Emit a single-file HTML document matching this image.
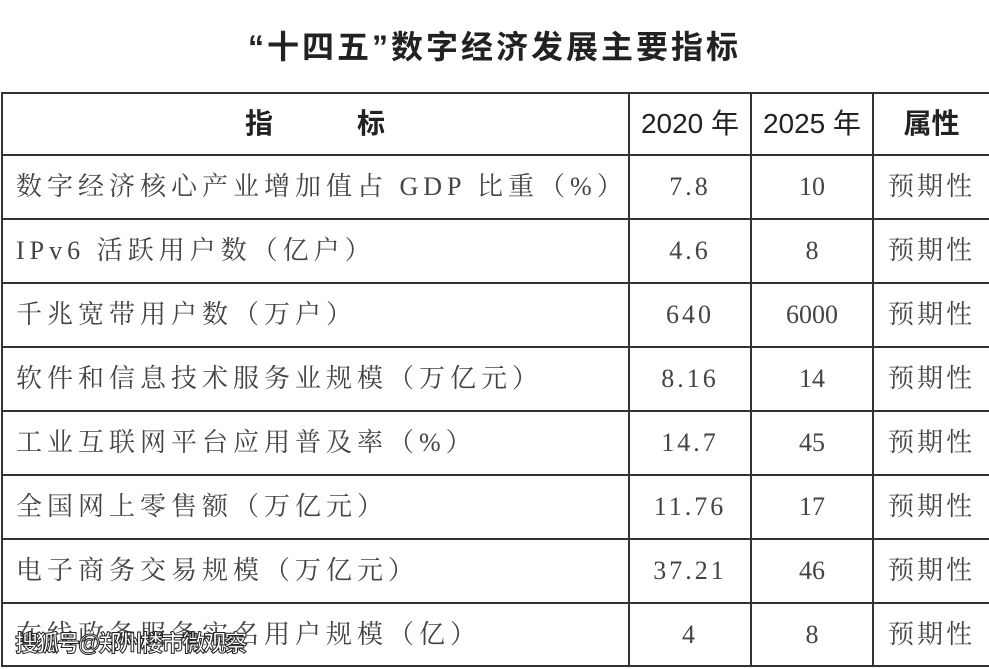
<!DOCTYPE html>
<html><head><meta charset="utf-8"><style>
body{margin:0;width:989px;height:669px;background:#fff;overflow:hidden;position:relative;font-family:"Liberation Serif","Noto Serif CJK SC",serif;color:#444}
.title{position:absolute;top:22px;left:0;width:989px;text-align:center;font:bold 32px "Liberation Sans","Noto Sans CJK SC",sans-serif;color:#222;letter-spacing:3px}
.h{position:absolute;left:1px;top:92px;width:990px;height:575px;border:2px solid #333;border-right:none;box-sizing:border-box}
.l{position:absolute;background:#333}
.t{position:absolute;font-size:26px;line-height:64px;white-space:nowrap}
.c{text-align:center}
.hd{font-family:"Liberation Sans","Noto Sans CJK SC",sans-serif;color:#222;font-size:28px}
.wm{position:absolute;left:15px;top:624px;font:bold 23px "Liberation Sans","Noto Sans CJK SC",sans-serif;color:#fff;-webkit-text-stroke:1px #222;letter-spacing:-2px}
</style></head><body>
<div class="title">“十四五”数字经济发展主要指标</div>
<div class="h"></div>
<div class="l" style="left:628px;top:92px;width:2px;height:575px"></div>
<div class="l" style="left:750px;top:92px;width:2px;height:575px"></div>
<div class="l" style="left:872px;top:92px;width:2px;height:575px"></div>
<div class="l" style="left:1px;top:154px;width:988px;height:2px"></div>
<div class="l" style="left:1px;top:218px;width:988px;height:2px"></div>
<div class="l" style="left:1px;top:282px;width:988px;height:2px"></div>
<div class="l" style="left:1px;top:346px;width:988px;height:2px"></div>
<div class="l" style="left:1px;top:410px;width:988px;height:2px"></div>
<div class="l" style="left:1px;top:474px;width:988px;height:2px"></div>
<div class="l" style="left:1px;top:538px;width:988px;height:2px"></div>
<div class="l" style="left:1px;top:602px;width:988px;height:2px"></div>
<div class="t hd c" style="left:2px;width:626px;top:92px;font-weight:bold">指&emsp;&emsp;&emsp;标</div>
<div class="t hd c" style="left:630px;width:120px;top:92px">2020 年</div>
<div class="t hd c" style="left:752px;width:120px;top:92px">2025 年</div>
<div class="t hd c" style="left:874px;width:115px;top:92px;font-weight:bold">属性</div>
<div class="t" style="left:16px;top:155px;letter-spacing:5px">数字经济核心产业增加值占 GDP 比重（%）</div>
<div class="t" style="left:16px;top:219px;letter-spacing:5px">IPv6 活跃用户数（亿户）</div>
<div class="t" style="left:16px;top:283px;letter-spacing:5px">千兆宽带用户数（万户）</div>
<div class="t" style="left:16px;top:347px;letter-spacing:5px">软件和信息技术服务业规模（万亿元）</div>
<div class="t" style="left:16px;top:411px;letter-spacing:5px">工业互联网平台应用普及率（%）</div>
<div class="t" style="left:16px;top:475px;letter-spacing:5px">全国网上零售额（万亿元）</div>
<div class="t" style="left:16px;top:539px;letter-spacing:5px">电子商务交易规模（万亿元）</div>
<div class="t" style="left:16px;top:603px;letter-spacing:5px">在线政务服务实名用户规模（亿）</div>
<div class="t c" style="left:630px;width:120px;top:155px;letter-spacing:3px">7.8</div>
<div class="t c" style="left:630px;width:120px;top:219px;letter-spacing:3px">4.6</div>
<div class="t c" style="left:630px;width:120px;top:283px;letter-spacing:3px">640</div>
<div class="t c" style="left:630px;width:120px;top:347px;letter-spacing:3px">8.16</div>
<div class="t c" style="left:630px;width:120px;top:411px;letter-spacing:3px">14.7</div>
<div class="t c" style="left:630px;width:120px;top:475px;letter-spacing:3px">11.76</div>
<div class="t c" style="left:630px;width:120px;top:539px;letter-spacing:3px">37.21</div>
<div class="t c" style="left:630px;width:120px;top:603px;letter-spacing:3px">4</div>
<div class="t c" style="left:752px;width:120px;top:155px">10</div>
<div class="t c" style="left:752px;width:120px;top:219px">8</div>
<div class="t c" style="left:752px;width:120px;top:283px">6000</div>
<div class="t c" style="left:752px;width:120px;top:347px">14</div>
<div class="t c" style="left:752px;width:120px;top:411px">45</div>
<div class="t c" style="left:752px;width:120px;top:475px">17</div>
<div class="t c" style="left:752px;width:120px;top:539px">46</div>
<div class="t c" style="left:752px;width:120px;top:603px">8</div>
<div class="t c" style="left:874px;width:115px;top:155px;letter-spacing:3px">预期性</div>
<div class="t c" style="left:874px;width:115px;top:219px;letter-spacing:3px">预期性</div>
<div class="t c" style="left:874px;width:115px;top:283px;letter-spacing:3px">预期性</div>
<div class="t c" style="left:874px;width:115px;top:347px;letter-spacing:3px">预期性</div>
<div class="t c" style="left:874px;width:115px;top:411px;letter-spacing:3px">预期性</div>
<div class="t c" style="left:874px;width:115px;top:475px;letter-spacing:3px">预期性</div>
<div class="t c" style="left:874px;width:115px;top:539px;letter-spacing:3px">预期性</div>
<div class="t c" style="left:874px;width:115px;top:603px;letter-spacing:3px">预期性</div>
<div class="wm">搜狐号@郑州楼市微观察</div>
</body></html>
